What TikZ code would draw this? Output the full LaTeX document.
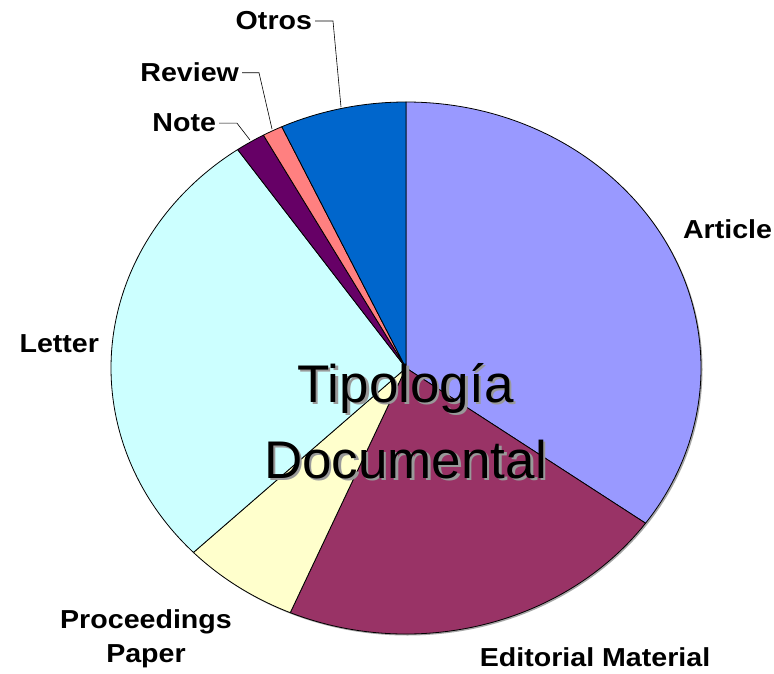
\documentclass[tikz,border=0pt]{standalone}
\usepackage{fontspec}
\setmainfont{Liberation Sans}
\definecolor{article}{HTML}{9999FF}
\definecolor{editorial}{HTML}{993366}
\definecolor{procpaper}{HTML}{FFFFCC}
\definecolor{letter}{HTML}{CCFFFF}
\definecolor{note}{HTML}{660066}
\definecolor{review}{HTML}{FF8080}
\definecolor{otros}{HTML}{0066CC}
\newcommand{\wide}[1]{\scalebox{1.1}[1]{#1}}
\newcommand{\shadowtext}[1]{\makebox[0pt][l]{\hspace{2.5pt}\raisebox{-2.5pt}{\textcolor{black!40}{#1}}}#1}
\begin{document}
\begin{tikzpicture}[x=1pt,y=-1pt,
  slice/.style={draw=black, line width=0.8pt, line join=round},
  lbl/.style={font=\fontsize{26}{34}\selectfont\bfseries, inner sep=0pt, outer sep=3pt, text=black},
  leader/.style={draw=black, line width=0.6pt},
  bigtxt/.style={font=\fontsize{53}{76}\selectfont, inner sep=0pt, align=center}]
\useasboundingbox[fill=white] (0,0) rectangle (774,674);
\coordinate (c) at (406,368);
\fill[black!35] ([shift={(1.5,1.5)}]c) ellipse[x radius=295, y radius=266];
\begin{scope}[shift={(c)}, x=1pt, y=1pt, xscale=295, yscale=266]
  \path[slice, fill=article]   (0,0) -- (90:1)     arc[start angle=90,     end angle=-35.7,  radius=1] -- cycle;
  \path[slice, fill=editorial] (0,0) -- (-35.7:1)  arc[start angle=-35.7,  end angle=-113.1, radius=1] -- cycle;
  \path[slice, fill=procpaper] (0,0) -- (-113.1:1) arc[start angle=-113.1, end angle=-136.1, radius=1] -- cycle;
  \path[slice, fill=letter]    (0,0) -- (-136.1:1) arc[start angle=-136.1, end angle=-235.2, radius=1] -- cycle;
  \path[slice, fill=note]      (0,0) -- (-235.2:1) arc[start angle=-235.2, end angle=-241.1, radius=1] -- cycle;
  \path[slice, fill=review]    (0,0) -- (-241.1:1) arc[start angle=-241.1, end angle=-245.1, radius=1] -- cycle;
  \path[slice, fill=otros]     (0,0) -- (-245.1:1) arc[start angle=-245.1, end angle=-270,   radius=1] -- cycle;
\end{scope}
% labels
\node[lbl, anchor=base east] (otros) at (315,30) {\wide{Otros}};
\node[lbl, anchor=base east] (review) at (242,82) {\wide{Review}};
\node[lbl, anchor=base east] (note) at (219,132) {\wide{Note}};
\node[lbl, anchor=base west] (article) at (680,238) {\wide{Article}};
\node[lbl, anchor=base east] (letter) at (102,352) {\wide{Letter}};
\node[lbl, anchor=north, align=center] (proc) at (146,607) {\wide{Proceedings}\\\wide{Paper}};
\node[lbl, anchor=base] (edit) at (595,666) {\wide{Editorial Material}};
% leader lines
\coordinate (otrosR) at (341,107);
\coordinate (reviewR) at (272,129);
\coordinate (noteR) at (250,140);
\draw[leader] (otros.east) -- ++(18,0) -- (otrosR);
\draw[leader] (review.east) -- ++(17,0) -- (reviewR);
\draw[leader] (note.east) -- ++(18,0) -- (noteR);
% title with shadow
\node[bigtxt, anchor=base] (title) at (405.5,478) {\shadowtext{Tipología}\\\shadowtext{Documental}};
\end{tikzpicture}
\end{document}
